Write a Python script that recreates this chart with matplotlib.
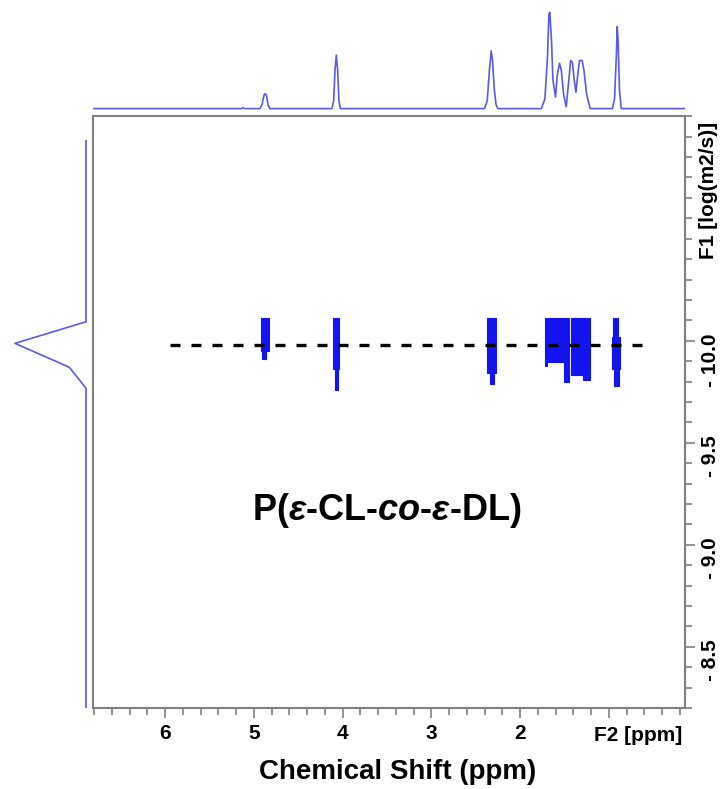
import matplotlib.pyplot as plt
from matplotlib.ticker import MultipleLocator, FixedLocator, FixedFormatter

plt.rcParams['font.family'] = ['Liberation Sans', 'DejaVu Sans']
plt.rcParams['mathtext.fontset'] = 'custom'
plt.rcParams['mathtext.rm'] = 'Liberation Sans:bold'
plt.rcParams['mathtext.it'] = 'Liberation Sans:italic:bold'

# 1H projection (F2), intensity normalised to the tallest peak
proj_ppm = [6.82, 5.14, 5.12, 5.10,
            4.93, 4.905, 4.885, 4.87, 4.855, 4.84, 4.82,
            4.12, 4.10, 4.085, 4.07, 4.055, 4.04, 4.025,
            2.40, 2.37, 2.345, 2.325, 2.31, 2.29, 2.27, 2.25,
            1.76, 1.72, 1.69, 1.675, 1.665, 1.655, 1.645, 1.63, 1.60, 1.58, 1.555,
            1.535, 1.51, 1.48, 1.455, 1.43, 1.41, 1.39, 1.37, 1.35, 1.33, 1.30,
            1.28, 1.25, 1.21,
            0.96, 0.935, 0.915, 0.905, 0.895, 0.88, 0.86,
            0.14]
proj_int = [0, 0, 0.8, 0,
            0, 5, 14, 15.6, 13, 4, 0,
            0, 8, 40, 55.5, 40, 8, 0,
            0, 8, 40, 60, 50, 20, 4, 0,
            0, 10, 55, 98, 100, 85, 70, 30, 12, 35, 47,
            40, 15, 2, 25, 50, 48, 30, 17, 35, 50, 50,
            40, 15, 0,
            0, 10, 55, 85, 70, 20, 0,
            0]

# diffusion projection (F1)
diff_logd = [-10.98, -10.093, -9.987, -9.870, -9.767, -8.20]
diff_int = [0, 0, 1, 0.235, 0, 0]

# DOSY cross peaks as strips: ppm left/right, logD top/bottom
peak_left = [4.92, 4.905, 4.105, 4.085, 2.37, 2.34,
             1.718, 1.718, 1.51, 1.429, 1.287,
             0.95, 0.967, 0.94]
peak_right = [4.83, 4.86, 4.035, 4.05, 2.27, 2.29,
              1.445, 1.70, 1.445, 1.211, 1.211,
              0.90, 0.873, 0.89]
peak_top = [-10.11, -9.95, -10.11, -9.86, -10.11, -9.84,
            -10.11, -9.895, -9.895, -10.11, -9.832,
            -10.11, -10.02, -9.86]
peak_bottom = [-9.95, -9.91, -9.86, -9.76, -9.84, -9.79,
               -9.895, -9.875, -9.796, -9.832, -9.807,
               -10.02, -9.86, -9.78]

logd_mean = -9.98
fit_ppm = [5.94, 0.63]

xmin, xmax = 6.815, 0.141
ymin, ymax = -8.20, -11.103

frame_col = '#808080'
trace_col = '#5a5ae8'
peak_col = '#1414f0'

fig = plt.figure(figsize=(7.22, 7.89), dpi=100)
ax = fig.add_axes([0.1284, 0.1027, 0.8204, 0.7507])
ax_top = fig.add_axes([0.1284, 0.8602, 0.8204, 0.1335])
ax_left = fig.add_axes([0.01385, 0.1027, 0.1108, 0.7507])

# cross peaks
for l, r, t, b in zip(peak_left, peak_right, peak_top, peak_bottom):
    ax.bar((l + r) / 2, b - t, bottom=t, width=l - r,
           color=peak_col, edgecolor=peak_col, linewidth=0.8)

ax.plot(fit_ppm, [logd_mean, logd_mean], color='black', lw=2.4,
        linestyle=(0, (3, 3.3)), dash_capstyle='butt')

ax.text(3.5, -9.17, r'P($\mathit{ε}$-CL-$\mathit{co}$-$\mathit{ε}$-DL)',
        fontsize=26, fontweight='bold', ha='center', va='center')

ax.set_xlim(xmin, xmax)
ax.set_ylim(ymin, ymax)

for side in ['left', 'right', 'top', 'bottom']:
    ax.spines[side].set_color(frame_col)
    ax.spines[side].set_linewidth(1.5)

ax.xaxis.set_major_locator(FixedLocator([6, 5, 4, 3, 2, 1]))
ax.xaxis.set_major_formatter(FixedFormatter(['6', '5', '4', '3', '2', '']))
ax.xaxis.set_minor_locator(MultipleLocator(0.2))
ax.yaxis.tick_right()
ax.yaxis.set_major_locator(FixedLocator([-10.0, -9.5, -9.0, -8.5]))
ax.yaxis.set_major_formatter(FixedFormatter(['- 10.0', '- 9.5', '- 9.0', '- 8.5']))
ax.yaxis.set_minor_locator(MultipleLocator(0.1))
ax.tick_params(which='both', direction='out', color=frame_col, width=1.2,
               labelsize=15, labelcolor='black')
ax.tick_params(which='major', length=7.2, pad=4)
ax.tick_params(which='minor', length=4.8)
ax.tick_params(axis='y', labelrotation=90)
for lab in ax.get_xticklabels() + ax.get_yticklabels():
    lab.set_fontweight('bold')

ax.text(0.995, -0.03, 'F2 [ppm]', transform=ax.transAxes, ha='right', va='top',
        fontsize=15, fontweight='bold')
ax.text(1.04, 1 - 6 / 592.3, 'F1 [log(m2/s)]', transform=ax.transAxes,
        rotation=90, ha='center', va='top', fontsize=15, fontweight='bold')
ax.set_xlabel('Chemical Shift (ppm)', fontsize=20, fontweight='bold', labelpad=12)
ax.xaxis.label.set_x(0.515)

# projections
ax_top.plot(proj_ppm, proj_int, color=trace_col, lw=1.2)
ax_top.set_xlim(xmin, xmax)
ax_top.set_ylim(-1.77, 107.6)
ax_top.axis('off')

ax_left.plot(diff_int, diff_logd, color=trace_col, lw=1.2)
ax_left.set_xlim(1.070, -0.0563)
ax_left.set_ylim(ymin, ymax)
ax_left.axis('off')

fig.savefig('out.png', dpi=100)
